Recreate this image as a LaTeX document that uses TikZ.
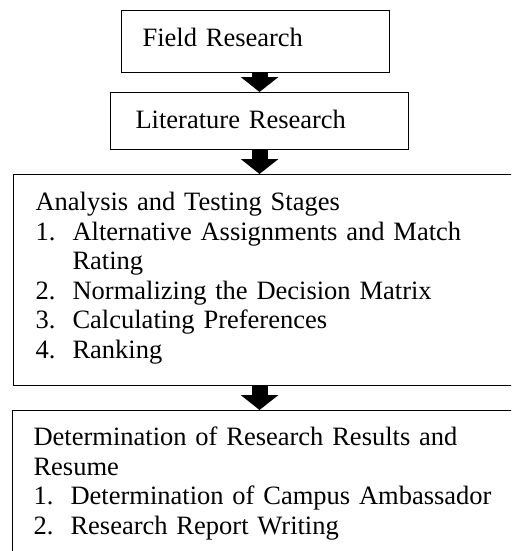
\documentclass[tikz,border=0pt]{standalone}
\usepackage{fontspec}
\setmainfont{Liberation Serif}
\usetikzlibrary{arrows.meta}

\tikzset{
  stagebox/.style={draw, line width=1.1pt, anchor=north west, inner ysep=0pt, align=left,
    font=\fontsize{26.5}{29.6}\selectfont},
  flowarrow/.style={line width=16pt, -{Triangle[width=37pt,length=15pt]}},
}
\newcommand{\stepno}[1]{\makebox[37pt][l]{#1}}

\begin{document}
\begin{tikzpicture}[x=1pt,y=-1pt]
\useasboundingbox (0,0) rectangle (511,551);
\clip (0,0) rectangle (511,551);
\node[stagebox, inner xsep=21pt, text width=226pt, text height=36pt, text depth=26pt] (field) at (121,10) {Field Research};
\node[stagebox, inner xsep=25pt, text width=248pt, text height=36pt, text depth=21pt] (lit) at (110,92) {Literature Research};
\node[stagebox, inner xsep=22pt, text width=500pt, text height=36pt, text depth=175pt] (stages) at (13,174) {Analysis and Testing Stages\\
\stepno{1.}Alternative Assignments and Match\\
\hspace*{37pt}Rating\\
\stepno{2.}Normalizing the Decision Matrix\\
\stepno{3.}Calculating Preferences\\
\stepno{4.}Ranking};
\node[stagebox, inner xsep=21pt, text width=500pt, text height=35pt, text depth=160pt] (results) at (12,410) {Determination of Research Results and\\
Resume\\
\stepno{1.}Determination of Campus Ambassador\\
\stepno{2.}Research Report Writing};
\draw[flowarrow] (field.south -| lit.north) -- (lit.north);
\draw[flowarrow] (lit.south) -- (lit.south |- stages.north);
\draw[flowarrow] (stages.south -| lit.south) -- (results.north -| lit.south);

\end{tikzpicture}
\end{document}
